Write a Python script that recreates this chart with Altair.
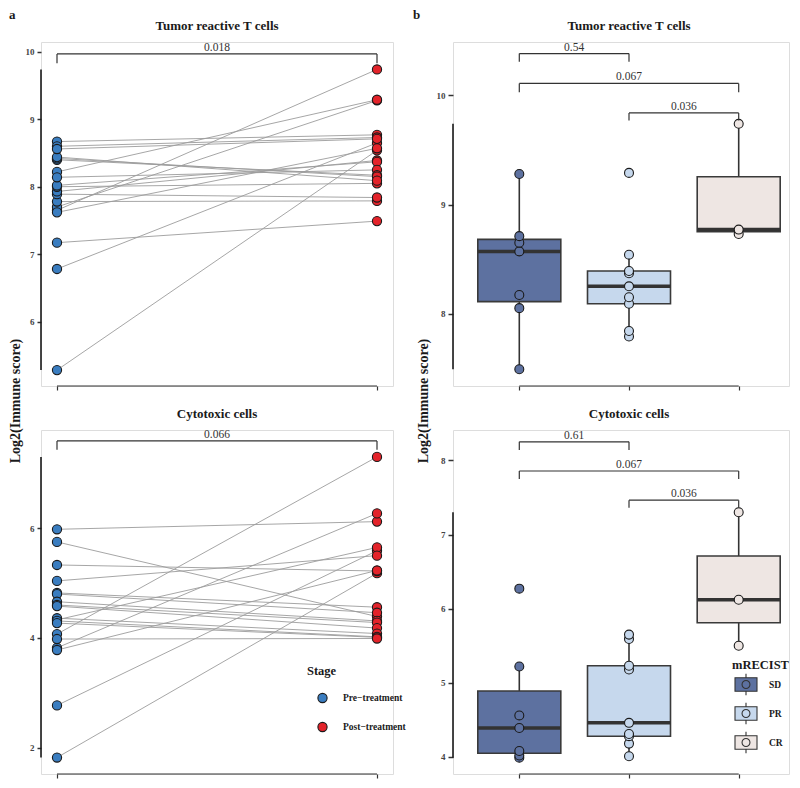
import altair as alt
import pandas as pd

FONT = "Liberation Serif"
INK = "#1a1a1a"
AX = "#333333"

# ---------------- data ----------------
stages = ["Pre−treatment", "Post−treatment"]
stage_colors = ["#3A7DC0", "#E3232A"]
groups = ["SD", "PR", "CR"]
group_colors = ["#5D71A0", "#C6D8ED", "#EEE6E3"]
panel_titles = ["Tumor reactive T cells", "Cytotoxic cells"]

# panel a: paired scores, one entry per patient (same order pre / post)
trt_pre = [5.28, 6.78, 7.17, 7.65, 7.70, 8.22, 7.62, 7.78, 7.89, 7.93,
           8.00, 8.02, 8.14, 8.40, 8.42, 8.44, 8.67, 8.60, 8.56]
trt_post = [8.54, 8.65, 7.49, 9.74, 9.28, 9.29, 8.57, 7.79, 7.84, 8.39,
            8.05, 8.37, 8.25, 8.17, 8.15, 8.09, 8.77, 8.73, 8.71]
cyt_pre = [1.82, 2.77, 4.07, 4.33, 5.98, 5.75, 5.33, 5.04, 3.82, 3.78,
           4.82, 4.80, 4.66, 4.60, 4.58, 4.36, 4.31, 4.27, 3.98]
cyt_post = [5.18, 5.59, 7.30, 5.65, 6.12, 4.39, 5.22, 5.50, 6.27, 5.23,
            4.56, 4.46, 4.31, 4.28, 4.18, 4.08, 4.02, 4.01, 3.99]
paired_p = ["0.018", "0.066"]

# panel b: post-treatment scores by mRECIST response
trt_sd = [7.49, 8.05, 8.17, 8.57, 8.65, 8.71, 9.28]
trt_pr = [7.79, 7.84, 8.09, 8.15, 8.25, 8.37, 8.39, 8.54, 9.29]
trt_cr = [8.73, 8.77, 9.74]
cyt_sd = [3.99, 4.02, 4.08, 4.39, 4.56, 5.22, 6.27]
cyt_pr = [4.01, 4.18, 4.28, 4.31, 4.46, 5.18, 5.23, 5.59, 5.65]
cyt_cr = [5.50, 6.12, 7.30]
pair_g1 = ["SD", "SD", "PR"]
pair_g2 = ["PR", "CR", "CR"]
trt_group_p = ["0.54", "0.067", "0.036"]
cyt_group_p = ["0.61", "0.067", "0.036"]

# ---------------- layout constants ----------------
LW, RW, H = 352, 336, 344
RSTEP = 109.7

BOX_PATH = ("M-1,-0.62H1V0.62H-1Z M0,-0.62V-0.98 M0,0.62V0.98 "
            "M0.36,0A0.36,0.36,0,1,1,-0.36,0A0.36,0.36,0,1,1,0.36,0Z")


def y_axis(values, tick_size):
    return alt.Axis(values=values, domain=False, grid=False, ticks=True,
                    tickSize=tick_size, tickWidth=1.5, tickColor=AX,
                    labelFont=FONT, labelFontSize=9, labelFontWeight="bold",
                    labelColor="#444444", labelPadding=3, title=None)


X_AXIS = alt.Axis(domain=False, grid=False, labels=False, ticks=True,
                  tickSize=4, tickWidth=1.2, tickColor=AX, title=None)


def txt(text, x, y, size, weight="bold", angle=0, align="center",
        baseline="middle", color=INK):
    return alt.Chart(pd.DataFrame({"t": [text]})).mark_text(
        font=FONT, fontSize=size, fontWeight=weight, angle=angle, align=align,
        baseline=baseline, color=color).encode(
        x=alt.value(x), y=alt.value(y), text="t:N")


def paired_panel(pre, post, title, pval, ydom, yticks, br_y, br_tip,
                 legend, extras):
    n = len(pre)
    df = pd.DataFrame({"patient": list(range(n)) * 2,
                       "Stage": [stages[0]] * n + [stages[1]] * n,
                       "value": pre + post})
    xs = alt.Scale(type="point", domain=stages, padding=0.05, round=False)
    ys = alt.Scale(domain=ydom, nice=False, zero=False)
    yax = y_axis(yticks, 4)
    X = alt.X("Stage:N", scale=xs, axis=X_AXIS)
    Y = alt.Y("value:Q", scale=ys, axis=yax)
    base = alt.Chart(df)
    lines = base.mark_line(color="#9C9C9C", strokeWidth=0.9).encode(
        x=X, y=Y, detail="patient:N")
    pts = base.mark_point(filled=True, size=85, opacity=1, stroke=INK,
                          strokeWidth=1.1).encode(
        x=X, y=Y,
        color=alt.Color("Stage:N", scale=alt.Scale(domain=stages, range=stage_colors),
                        legend=legend))
    yline = base.mark_rule(color=INK, strokeWidth=1.6).encode(
        x=alt.value(0), y=alt.Y("min(value):Q", scale=ys, axis=yax),
        y2=alt.Y2("max(value)"))
    fr = pd.DataFrame({"a": [stages[0]], "b": [stages[1]]})
    xline = alt.Chart(fr).mark_rule(color=AX, strokeWidth=1.2).encode(
        x=alt.X("a:N", scale=xs, axis=X_AXIS), x2=alt.X2("b"), y=alt.value(H))
    bk = pd.DataFrame({"g1": [stages[0]], "g2": [stages[1]], "y": [br_y],
                       "tip": [br_tip], "p": [pval]})
    bc = alt.Chart(bk)
    bh = bc.mark_rule(color=AX, strokeWidth=1.2).encode(
        x=alt.X("g1:N", scale=xs, axis=X_AXIS), x2=alt.X2("g2"),
        y=alt.Y("y:Q", scale=ys, axis=yax))
    b1 = bc.mark_rule(color=AX, strokeWidth=1.2).encode(
        x=alt.X("g1:N", scale=xs, axis=X_AXIS), y=alt.Y("y:Q", scale=ys, axis=yax),
        y2=alt.Y2("tip"))
    b2 = bc.mark_rule(color=AX, strokeWidth=1.2).encode(
        x=alt.X("g2:N", scale=xs, axis=X_AXIS), y=alt.Y("y:Q", scale=ys, axis=yax),
        y2=alt.Y2("tip"))
    bt = bc.mark_text(font=FONT, fontSize=11.5, color=AX, baseline="alphabetic",
                      dy=-3).encode(x=alt.value(LW / 2),
                                    y=alt.Y("y:Q", scale=ys, axis=yax), text="p:N")
    ttl = txt(title, LW / 2, -16, 13)
    return alt.layer(yline, xline, lines, pts, bh, b1, b2, bt, ttl, *extras).properties(
        width=LW, height=H)


def group_panel(vals, title, pvals, ydom, yticks, br_y, br_tip, legend, extras):
    df = pd.DataFrame({
        "mRECIST": sum([[g] * len(v) for g, v in zip(groups, vals)], []),
        "value": sum(vals, [])})
    pad = (RW / RSTEP - 2) / 2
    xs = alt.Scale(type="point", domain=groups, padding=pad, round=False,
                   align=66.3 / (RW - 2 * RSTEP))
    ys = alt.Scale(domain=ydom, nice=False, zero=False)
    yax = y_axis(yticks, 5)
    X = alt.X("mRECIST:N", scale=xs, axis=X_AXIS)
    Y = alt.Y("value:Q", scale=ys, axis=yax)
    C = alt.Color("mRECIST:N", scale=alt.Scale(domain=groups, range=group_colors),
                  legend=legend)
    base = alt.Chart(df)
    box = base.mark_boxplot(
        size=83, extent=1.5, outliers=False, ticks=False, opacity=1,
        box={"stroke": "#3a3a3a", "strokeWidth": 1.6},
        median={"color": "#333333", "thickness": 3.5},
        rule={"color": "#333333", "strokeWidth": 1.6}).encode(x=X, y=Y, color=C)
    pts = base.mark_point(filled=True, size=80, opacity=1, stroke=INK,
                          strokeWidth=1.1).encode(x=X, y=Y, color=C)
    yline = base.mark_rule(color=INK, strokeWidth=1.6).encode(
        x=alt.value(0), y=alt.Y("min(value):Q", scale=ys, axis=yax),
        y2=alt.Y2("max(value)"))
    fr = pd.DataFrame({"a": [groups[0]], "b": [groups[-1]]})
    xline = alt.Chart(fr).mark_rule(color=AX, strokeWidth=1.2).encode(
        x=alt.X("a:N", scale=xs, axis=X_AXIS), x2=alt.X2("b"), y=alt.value(H))
    bk = pd.DataFrame({"g1": pair_g1, "g2": pair_g2, "y": br_y, "tip": br_tip,
                       "p": pvals})
    bc = alt.Chart(bk)
    bh = bc.mark_rule(color=AX, strokeWidth=1.2).encode(
        x=alt.X("g1:N", scale=xs, axis=X_AXIS), x2=alt.X2("g2"),
        y=alt.Y("y:Q", scale=ys, axis=yax))
    b1 = bc.mark_rule(color=AX, strokeWidth=1.2).encode(
        x=alt.X("g1:N", scale=xs, axis=X_AXIS), y=alt.Y("y:Q", scale=ys, axis=yax),
        y2=alt.Y2("tip"))
    b2 = bc.mark_rule(color=AX, strokeWidth=1.2).encode(
        x=alt.X("g2:N", scale=xs, axis=X_AXIS), y=alt.Y("y:Q", scale=ys, axis=yax),
        y2=alt.Y2("tip"))
    # label of adjacent pairs sits half a step right of g1; the wide pair one step right
    adj = bc.transform_filter("datum.g1 != 'SD' || datum.g2 != 'CR'").mark_text(
        font=FONT, fontSize=11.5, color=AX, baseline="alphabetic", dy=-3,
        dx=RSTEP / 2).encode(x=alt.X("g1:N", scale=xs, axis=X_AXIS),
                             y=alt.Y("y:Q", scale=ys, axis=yax), text="p:N")
    wide = bc.transform_filter("datum.g1 == 'SD' && datum.g2 == 'CR'").mark_text(
        font=FONT, fontSize=11.5, color=AX, baseline="alphabetic", dy=-3,
        dx=RSTEP).encode(x=alt.X("g1:N", scale=xs, axis=X_AXIS),
                         y=alt.Y("y:Q", scale=ys, axis=yax), text="p:N")
    ttl = txt(title, 176, -16, 13)
    return alt.layer(yline, xline, box, pts, bh, b1, b2, adj, wide, ttl,
                     *extras).properties(width=RW, height=H)


ytitle = "Log2(Immune score)"

stage_legend = alt.Legend(
    title="Stage", orient="none", legendX=266, legendY=235, direction="vertical",
    padding=0, titleFont=FONT, titleFontSize=12.5, titleFontWeight="bold",
    titleColor=INK, titlePadding=15, labelFont=FONT, labelFontSize=9.5,
    labelFontWeight="bold", labelColor=INK, symbolType="circle", symbolSize=85,
    symbolStrokeColor=INK, symbolStrokeWidth=1.1, symbolOffset=10,
    labelOffset=15, rowPadding=14)

resp_legend = alt.Legend(
    title="mRECIST", orient="none", legendX=279, legendY=229, direction="vertical",
    padding=0, titleFont=FONT, titleFontSize=12.5, titleFontWeight="bold",
    titleColor=INK, titlePadding=1, labelFont=FONT, labelFontSize=9.5,
    labelFontWeight="bold", labelColor=INK, symbolType=BOX_PATH, symbolSize=484,
    symbolStrokeColor="#333333", symbolStrokeWidth=1.1, symbolOffset=2,
    labelOffset=11, rowPadding=3)

tl = paired_panel(trt_pre, trt_post, panel_titles[0], paired_p[0],
                  [5.044, 10.147], [6, 7, 8, 9, 10], 9.97, 9.83, None,
                  [txt("a", -32, -33, 13, align="left", baseline="top"),
                   txt(ytitle, -25, 359, 14, angle=270)])
bl = paired_panel(cyt_pre, cyt_post, panel_titles[1], paired_p[1],
                  [1.52, 7.79], [2, 4, 6], 7.59, 7.43, stage_legend, [])
tr = group_panel([trt_sd, trt_pr, trt_cr], panel_titles[0], trt_group_p,
                 [7.336, 10.49], [8, 9, 10], [10.384, 10.11, 9.84],
                 [10.31, 10.03, 9.77], None,
                 [txt("b", -40, -33, 13, align="left", baseline="top"),
                  txt(ytitle, -29, 359, 14, angle=270)])
br = group_panel([cyt_sd, cyt_pr, cyt_cr], panel_titles[1], cyt_group_p,
                 [3.77, 8.41], [4, 5, 6, 7, 8], [8.25, 7.857, 7.464],
                 [8.14, 7.75, 7.36], resp_legend, [])

chart = alt.concat(tl, tr, bl, br, columns=2, spacing={"row": 44, "column": 60},
                   bounds="flush").resolve_scale(
    x="independent", y="independent", color="independent").resolve_legend(
    color="independent").properties(padding=0).configure_view(
    stroke=None).configure(font=FONT)

chart.save("out.html", embed_options={"renderer": "svg", "actions": False})
